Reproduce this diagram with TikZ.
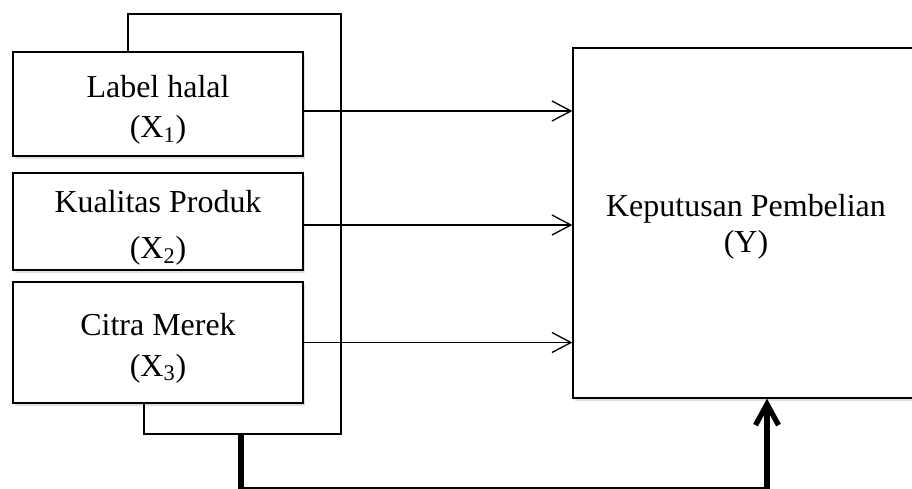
\documentclass[tikz,border=0pt]{standalone}
\usepackage{fontspec}
\setmainfont{Liberation Serif}
\usetikzlibrary{arrows.meta, positioning, calc, shadows}

\begin{document}
\begin{tikzpicture}[
    x=0.02cm, y=-0.02cm,
    every node/.style={font=\fontsize{18.2}{23}\selectfont},
    box/.style={rectangle, draw=black, fill=white, line width=0.75pt, inner sep=0pt,
        minimum width=5.8cm,
        drop shadow={shadow xshift=1.2pt, shadow yshift=-1.5pt, opacity=0.25}},
    txt/.style={align=center, inner sep=0pt},
    arr/.style={-{Straight Barb[length=0.38cm, width=0.4cm]}, line width=0.75pt},
    loopline/.style={line width=0.75pt},
    bigarr/.style={-{Straight Barb[length=0.42cm, width=0.46cm]}, line width=3pt},
]
\useasboundingbox (0,0) rectangle (912,488);
\clip (0,0) rectangle (912,488);

% ============================================================ the three causes
\node[box, minimum height=2.08cm] (x1) at (158,104) {};
\node[txt] (x1t) at ([yshift=-0.12cm]x1.center) {Label halal\\(X\textsubscript{1})};
\node[box, minimum height=1.94cm] (x2) at (158,221.5) {};
\node[txt] (x2t) at ([yshift=-0.13cm]x2.center) {Kualitas Produk\\[3pt](X\textsubscript{2})};
\node[box, minimum height=2.42cm] (x3) at (158,342.5) {};
\node[txt] (x3t) at ([yshift=-0.12cm]x3.center) {Citra Merek\\(X\textsubscript{3})};

% ============================================================ the effect
\node[box, minimum width=6.92cm, minimum height=7cm] (y) at (746,223) {};
\node[txt, font=\fontsize{18.2}{20.5}\selectfont] (yt) at ([yshift=-0.08cm]y.center)
    {Keputusan Pembelian\\(Y)};

% ============================================================ partial effects
\draw[arr] ([yshift=-0.14cm]x1.east) -- ([yshift=-0.14cm]x1.east -| y.west);
\draw[arr] ([yshift=-0.07cm]x2.east) -- ([yshift=-0.07cm]x2.east -| y.west);
\draw[arr] (x3.east) -- (x3.east -| y.west);

% ============================================================ joint effect
\draw[loopline] ([xshift=-0.6cm]x1.north) |- (341,14) -- (341,434) -| ([xshift=-0.28cm]x3.south);
\coordinate (loopbot) at (241,434);
\draw[bigarr] (loopbot) -- (241,489.6) -| ([xshift=0.42cm]y.south);

\end{tikzpicture}
\end{document}
